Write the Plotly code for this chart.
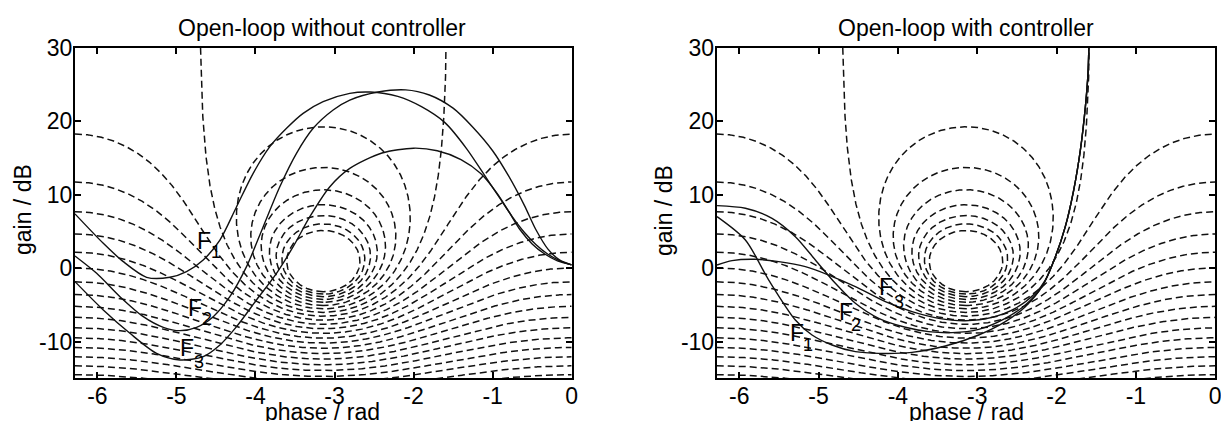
import numpy as np
import plotly.graph_objects as go

# Nichols grid: closed-loop magnitude contours (dB)
m_pos_db = [1, 2, 3, 4, 5, 6, 7]
m_neg_db = [-1, -2, -3, -4, -5, -6, -7, -8, -9, -10, -11, -12, -13, -14, -15, -16]

x_ticks = [-6, -5, -4, -3, -2, -1, 0]
x_tick_text = ["-6", "-5", "-4", "-3", "-2", "-1", "0"]
y_ticks = [-10, 0, 10, 20, 30]
y_tick_text = ["-10", "0", "10", "20", "30"]

# open-loop without controller (phase in rad, gain in dB)
a_f1_phase = [-6.283, -5.925, -5.672, -5.377, -5.082, -4.872, -4.661, -4.450, -4.239, -4.029,
              -3.818, -3.607, -3.397, -3.144, -2.807, -2.55, -2.2, -1.9, -1.6, -1.33,
              -1.08, -0.9, -0.75, -0.6, -0.45, -0.3, -0.15, 0.0]
a_f1_gain = [7.4, 3.39, 0.89, -1.24, -1.24, -0.47, 1.12, 3.84, 8.38, 12.93,
             16.56, 19.06, 21.1, 22.69, 23.82, 24.0, 23.4, 22.0, 19.8, 16.3,
             12.3, 9.4, 7.0, 4.9, 3.2, 1.9, 1.0, 0.45]

a_f2_phase = [-6.283, -6.009, -5.714, -5.419, -5.166, -4.956, -4.745, -4.534, -4.324, -4.113,
              -3.902, -3.692, -3.481, -3.27, -3.017, -2.807, -2.45, -2.1, -1.8, -1.5,
              -1.25, -1.0, -0.8, -0.6, -0.45, -0.3, -0.15, 0.0]
a_f2_gain = [1.66, -0.70, -3.88, -6.60, -8.05, -8.51, -8.05, -6.6, -3.88, 0.21,
             5.66, 11.1, 15.65, 19.06, 21.55, 22.9, 24.0, 24.3, 23.6, 21.8,
             19.2, 16.0, 12.6, 8.6, 5.2, 2.6, 1.1, 0.45]

a_f3_phase = [-6.283, -5.925, -5.588, -5.251, -4.956, -4.661, -4.450, -4.239, -3.987, -3.734,
              -3.523, -3.312, -3.059, -2.807, -2.4, -2.0, -1.7, -1.4, -1.15, -0.95,
              -0.8, -0.65, -0.5, -0.35, -0.18, 0.0]
a_f3_gain = [-1.83, -5.69, -8.87, -11.6, -12.5, -12.05, -10.46, -7.96, -4.33, -0.70,
             2.93, 7.02, 11.1, 13.6, 15.7, 16.35, 16.0, 14.8, 12.9, 10.3,
             7.8, 5.2, 3.3, 2.0, 1.0, 0.45]

# open-loop with controller (phase in rad, gain in dB)
b_f1_phase = [-6.279, -5.922, -5.628, -5.292, -5.082, -4.830, -4.536, -4.242, -3.822, -3.402,
              -2.982, -2.646, -2.394, -2.184, -2.015, -1.89, -1.784, -1.70, -1.637, -1.604, -1.591]
b_f1_gain = [7.02, 3.84, -1.61, -7.06, -9.1, -10.46, -11.37, -11.6, -11.46, -10.6,
             -9.1, -7.28, -5.24, -2.51, 1.57, 5.66, 10.65, 16.1, 22.0, 26.5, 31.0]

b_f2_phase = [-6.279, -5.922, -5.586, -5.292, -5.040, -4.788, -4.536, -4.242, -3.906, -3.612,
              -3.318, -2.982, -2.646, -2.394, -2.184, -2.015, -1.89, -1.784, -1.70, -1.637, -1.604, -1.591]
b_f2_gain = [8.52, 8.16, 6.8, 4.3, 1.12, -2.06, -4.78, -6.83, -8.05, -8.64,
             -8.78, -8.33, -6.83, -5.01, -2.51, 1.57, 5.66, 10.65, 16.1, 22.0, 26.5, 31.0]

b_f3_phase = [-6.279, -6.09, -5.796, -5.502, -5.166, -4.872, -4.536, -4.158, -3.822, -3.486,
              -3.150, -2.814, -2.52, -2.268, -2.14, -2.015, -1.89, -1.784, -1.70, -1.637, -1.604, -1.591]
b_f3_gain = [0.44, 1.03, 1.21, 0.89, 0.21, -0.93, -2.51, -4.56, -5.92, -6.83,
             -7.15, -6.69, -5.47, -3.42, -1.6, 1.57, 5.66, 10.65, 16.1, 22.0, 26.5, 31.0]

FONT = "Liberation Sans, Arial, Helvetica, sans-serif"
DASH = "7px,4px"


def m_contour(mdb):
    """Phase (rad, in [-2pi, 0]) and gain (dB) of the |T| = mdb contour."""
    M = 10 ** (mdb / 20.0)
    if M < 1:
        phi = np.linspace(-2 * np.pi, 0, 900)
        c = np.cos(phi)
        r = (M * M * c + M * np.sqrt(M * M * c * c + 1 - M * M)) / (1 - M * M)
    else:
        th = np.linspace(0, 2 * np.pi, 900)
        cen = -M * M / (M * M - 1)
        rad = M / (M * M - 1)
        L = cen + rad * np.exp(1j * th)
        ang = np.angle(L)
        phi = np.where(ang > 0, ang - 2 * np.pi, ang)
        r = np.abs(L)
    return phi, 20 * np.log10(r)


def zero_db_contour():
    r = np.logspace(np.log10(0.5), 3, 600)
    a = np.arccos(1 / (2 * r))
    phi = np.concatenate([(-np.pi - a)[::-1], -np.pi + a])
    g = np.concatenate([(20 * np.log10(r))[::-1], 20 * np.log10(r)])
    return phi, g


fig = go.Figure()

grid_lines = [m_contour(v) for v in m_neg_db] + [zero_db_contour()] + [m_contour(v) for v in m_pos_db]

panels = [
    ("x", "y", [(a_f1_phase, a_f1_gain), (a_f2_phase, a_f2_gain), (a_f3_phase, a_f3_gain)]),
    ("x2", "y2", [(b_f1_phase, b_f1_gain), (b_f2_phase, b_f2_gain), (b_f3_phase, b_f3_gain)]),
]

for xa, ya, curves in panels:
    for phi, g in grid_lines:
        fig.add_trace(go.Scatter(x=phi, y=g, mode="lines", xaxis=xa, yaxis=ya,
                                 line=dict(color="#111", width=1.5, dash=DASH),
                                 hoverinfo="skip", showlegend=False))
    for ph, gn in curves:
        fig.add_trace(go.Scatter(x=ph, y=gn, mode="lines", xaxis=xa, yaxis=ya,
                                 line=dict(color="#111", width=1.4, shape="spline", smoothing=0.8),
                                 hoverinfo="skip", showlegend=False))

axis_common = dict(showgrid=False, zeroline=False, showline=True, linecolor="black", linewidth=2,
                   mirror="allticks", ticks="inside", ticklen=6, tickwidth=1.5, tickcolor="black",
                   automargin=False, ticklabeloverflow="allow",
                   tickfont=dict(family=FONT, size=23, color="black"))

y_dom = [0.1014, 0.886]
fig.update_layout(
    width=1221, height=421,
    margin=dict(l=0, r=0, t=0, b=0, autoexpand=False),
    paper_bgcolor="white", plot_bgcolor="white",
    xaxis=dict(domain=[0.0614, 0.4682], range=[-2 * np.pi, 0], tickvals=x_ticks, ticktext=x_tick_text,
               anchor="y", ticklabelstandoff=-4, **axis_common),
    yaxis=dict(domain=y_dom, range=[-15, 30], tickvals=y_ticks, ticktext=y_tick_text, anchor="x",
               ticklabelstandoff=-4, **axis_common),
    xaxis2=dict(domain=[0.5870, 0.9953], range=[-2 * np.pi, 0], tickvals=x_ticks, ticktext=x_tick_text,
                anchor="y2", ticklabelstandoff=-4, **axis_common),
    yaxis2=dict(domain=y_dom, range=[-15, 30], tickvals=y_ticks, ticktext=y_tick_text, anchor="x2",
                ticklabelstandoff=-4, **axis_common),
)

txt = dict(family=FONT, size=23, color="black")
ann = []
# titles and axis labels
for cx, title, ylab_x in [(322.0 / 1221, "Open-loop without controller", 23 / 1221),
                          (966.0 / 1221, "Open-loop with controller", 664 / 1221)]:
    ann.append(dict(x=cx, y=1 - 28 / 421, xref="paper", yref="paper", text=title,
                    showarrow=False, font=txt, xanchor="center", yanchor="middle"))
    ann.append(dict(x=cx, y=1 - 412 / 421, xref="paper", yref="paper", text="phase / rad",
                    showarrow=False, font=txt, xanchor="center", yanchor="middle"))
    ann.append(dict(x=ylab_x, y=1 - 210 / 421, xref="paper", yref="paper", text="gain / dB",
                    showarrow=False, font=txt, textangle=-90, xanchor="center", yanchor="middle"))

# curve labels: (axis, F position, index position, index)
labels = [
    ("", (-4.657, 3.75), (-4.501, 2.21), "1"),
    ("", (-4.770, -5.42), (-4.619, -6.97), "2"),
    ("", (-4.872, -10.92), (-4.72, -12.73), "3"),
    ("2", (-5.267, -8.87), (-5.133, -10.46), "1"),
    ("2", (-4.654, -5.92), (-4.528, -7.74), "2"),
    ("2", (-4.149, -2.51), (-3.99, -4.65), "3"),
]
for ax, fpos, ipos, idx in labels:
    ann.append(dict(x=fpos[0], y=fpos[1], xref="x" + ax, yref="y" + ax, text="F",
                    showarrow=False, font=dict(family=FONT, size=23, color="black"),
                    xanchor="center", yanchor="middle"))
    ann.append(dict(x=ipos[0], y=ipos[1], xref="x" + ax, yref="y" + ax, text=idx,
                    showarrow=False, font=dict(family=FONT, size=18, color="black"),
                    xanchor="center", yanchor="middle"))

fig.update_layout(annotations=ann)
fig.write_html("out.html")
